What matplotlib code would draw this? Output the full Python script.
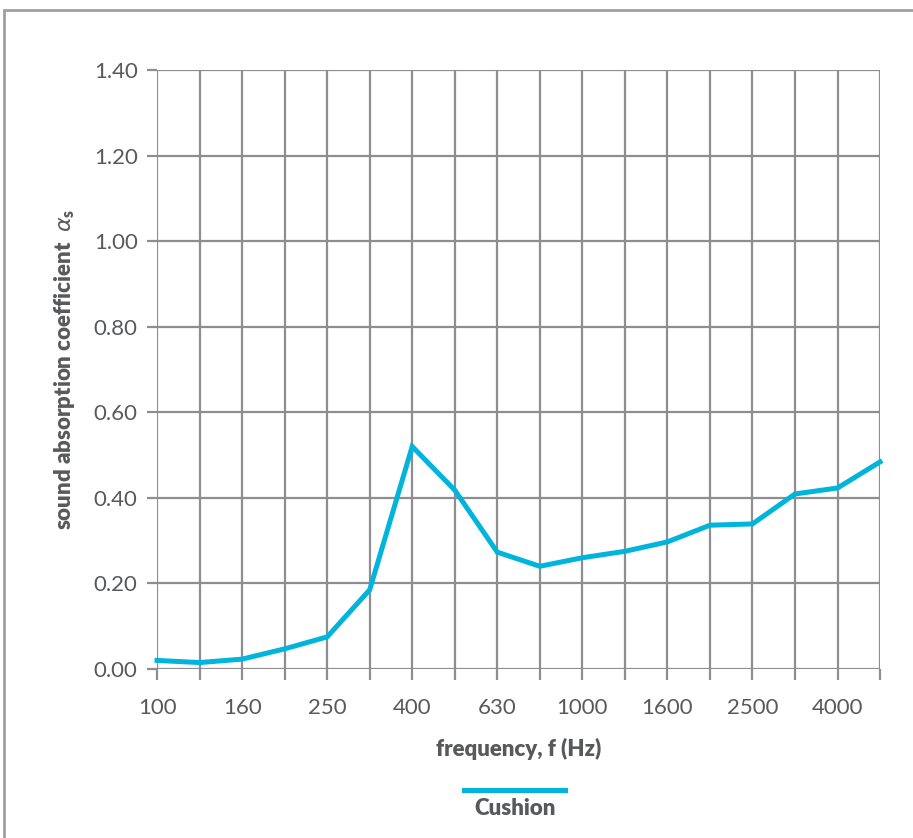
import matplotlib.pyplot as plt
from matplotlib.lines import Line2D
from matplotlib.patches import Rectangle

# frequency bands (1/3 octave) and measured absorption
freqs = [100, 125, 160, 200, 250, 315, 400, 500, 630, 800,
         1000, 1250, 1600, 2000, 2500, 3150, 4000, 5000]
alpha = [0.02, 0.015, 0.023, 0.047, 0.075, 0.185, 0.52, 0.418, 0.273, 0.24,
         0.26, 0.275, 0.297, 0.336, 0.339, 0.409, 0.423, 0.484]
y_ticks = [0.0, 0.2, 0.4, 0.6, 0.8, 1.0, 1.2, 1.4]
series_name = "Cushion"

grid_col = "#8e8e92"
text_col = "#58595b"
line_col = "#00b4dc"

plt.rcParams['font.family'] = ['Lato', 'DejaVu Sans']

fig = plt.figure(figsize=(9.13, 8.38), dpi=100)
ax = fig.add_axes([0.172, 0.2017, 0.7919, 0.7148])

x = list(range(len(freqs)))
ax.plot(x, alpha, color=line_col, lw=3.6, solid_joinstyle='miter', zorder=3, clip_on=False)

ax.set_xlim(0, len(freqs) - 1)
ax.set_ylim(0, 1.4)
ax.set_xticks(x[::2])
ax.set_xticklabels([str(f) for f in freqs[::2]])
ax.set_xticks(x[1::2], minor=True)
ax.set_yticks(y_ticks)
ax.set_yticklabels([f"{v:.2f}" for v in y_ticks])

ax.grid(True, which='both', color=grid_col, lw=1.6)
ax.set_axisbelow(True)
for s in ax.spines.values():
    s.set_visible(False)

ax.tick_params(axis='both', which='both', color=grid_col, width=1.6,
               labelcolor=text_col, labelsize=16)
ax.tick_params(axis='x', which='both', length=8, pad=13)
ax.tick_params(axis='y', length=7, pad=7)

ax.set_xlabel("frequency, f (Hz)", fontsize=16, fontweight='heavy', color=text_col, labelpad=14)
ax.set_ylabel(r"sound absorption coefficient  $\alpha_\mathregular{s}$", fontsize=16,
              fontweight='heavy', color=text_col, labelpad=12)

# legend key: line above the name
fig.add_artist(Line2D([464 / 913, 565 / 913], [1 - 790 / 838, 1 - 790 / 838],
                      color=line_col, lw=3.6, transform=fig.transFigure))
fig.text(515 / 913, 1 - 808 / 838, series_name, ha='center', va='center',
         fontsize=16, fontweight='heavy', color=text_col)

# outer box
fig.add_artist(Rectangle((4 / 913, -0.05), 1.1, 1 - 10 / 838 + 0.05, fill=False,
                         edgecolor="#a0a0a3", lw=2, transform=fig.transFigure))

fig.savefig("out.png", dpi=100)
